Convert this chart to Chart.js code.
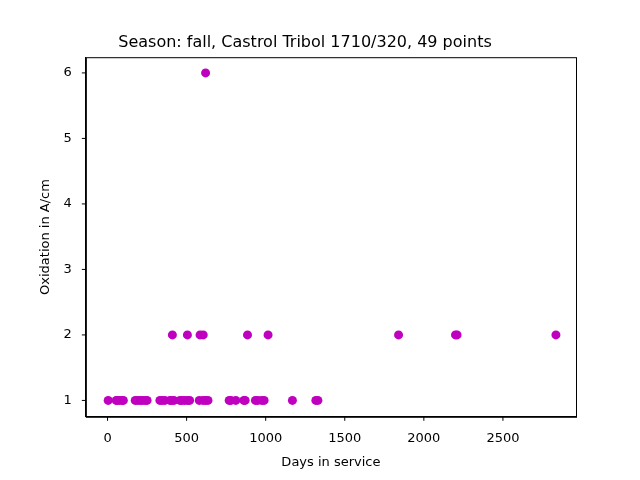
<!DOCTYPE html>
<html><head><meta charset="utf-8">
<script src="https://cdn.jsdelivr.net/npm/chart.js@4"></script>
<style>body{margin:0;background:#fff}#wrap{width:640px;height:480px}</style>
</head><body><div id="wrap"><canvas id="c" width="640" height="480"></canvas></div>
<script>
// days in service / oxidation readings
const days = [4, 55, 61, 75, 92, 100, 175, 190, 206, 220, 237, 250, 331, 345, 362, 395, 404, 420, 458, 470, 487, 505, 519,
  580, 604, 620, 635, 769, 780, 811, 862, 870, 935, 950, 975, 990, 1169, 1317, 1330,
  410, 505, 585, 605, 885, 1015, 1840, 2200, 2210, 2835];
const oxidation = [1,1,1,1,1,1,1,1,1,1,1,1,1,1,1,1,1,1,1,1,1,1,1,
  1,1,1,1,1,1,1,1,1,1,1,1,1,1,1,1,
  2,2,2,2,2,2,2,2,2,2];
days.push(620); oxidation.push(6);
const xTicks = [0, 500, 1000, 1500, 2000, 2500];
const yTicks = [1, 2, 3, 4, 5, 6];

const pts = days.map((d, i) => ({ x: d, y: oxidation[i] }));
const font = { family: 'DejaVu Sans', size: 13 };
new Chart(document.getElementById('c'), {
  type: 'scatter',
  data: { datasets: [{ data: pts, backgroundColor: '#bf00bf', borderWidth: 0, pointRadius: 4.5 }] },
  options: {
    responsive: false, animation: false,
    layout: { padding: { left: 34, right: 64, top: 0, bottom: 8 } },
    plugins: {
      legend: { display: false }, tooltip: { enabled: false },
      title: { display: true, text: 'Season: fall, Castrol Tribol 1710/320, 49 points',
        color: '#000', font: { family: 'DejaVu Sans', size: 16, weight: 'normal' }, padding: { top: 33, bottom: 5 } }
    },
    scales: {
      x: { type: 'linear', min: -137, max: 2962,
        afterBuildTicks: a => { a.ticks = xTicks.map(v => ({ value: v })); },
        grid: { display: false }, border: { color: '#000' },
        ticks: { color: '#000', font, callback: v => String(v), padding: 6 },
        title: { display: true, text: 'Days in service', color: '#000', font, padding: 2 } },
      y: { min: 0.75, max: 6.24,
        afterBuildTicks: a => { a.ticks = yTicks.map(v => ({ value: v })); },
        grid: { display: false }, border: { color: '#000' },
        ticks: { color: '#000', font, callback: v => String(v), padding: 6 },
        title: { display: true, text: 'Oxidation in A/cm', color: '#000', font, padding: 4 } }
    }
  },
  plugins: [{ id: 'frame', afterDraw(ch) {
    const { ctx, chartArea: a } = ch;
    ctx.save(); ctx.strokeStyle = '#000'; ctx.lineWidth = 1;
    ctx.strokeRect(a.left + 0.5, a.top + 0.5, a.right - a.left, a.bottom - a.top);
    ctx.beginPath();
    xTicks.forEach(v => { const x = ch.scales.x.getPixelForValue(v); ctx.moveTo(x, a.bottom); ctx.lineTo(x, a.bottom + 4); });
    yTicks.forEach(v => { const y = ch.scales.y.getPixelForValue(v); ctx.moveTo(a.left, y); ctx.lineTo(a.left - 4, y); });
    ctx.stroke(); ctx.restore();
  } }]
});
</script></body></html>
